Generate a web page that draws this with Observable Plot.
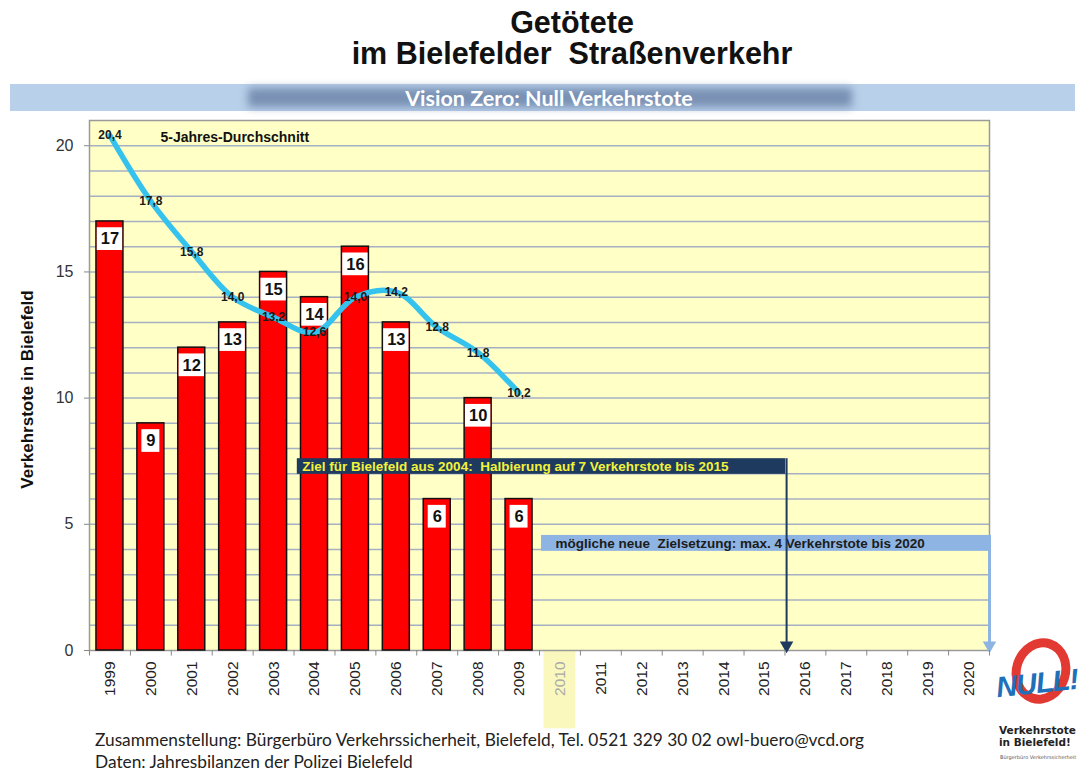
<!DOCTYPE html>
<html>
<head>
<meta charset="utf-8">
<script src="https://cdn.jsdelivr.net/npm/d3@7"></script>
<script src="https://cdn.jsdelivr.net/npm/@observablehq/plot@0.6"></script>
<style>
  body { margin: 0; background: #fff; }
  #page { position: relative; width: 1081px; height: 771px; overflow: hidden; font-family: "Liberation Sans", Arial, sans-serif; }
  .title { position: absolute; left: 0; width: 1144px; text-align: center; font-weight: bold; font-size: 30.5px; line-height: 30.5px; color: #111; white-space: pre; }
  #banner { position: absolute; left: 10px; top: 84px; width: 1065px; height: 27px; background: #b9d0ea; }
  #bannerShade { position: absolute; left: 248px; top: 88px; width: 604px; height: 19px; background: #7890b3; filter: blur(4px); }
  #bannerText { position: absolute; left: 0; width: 1098px; top: 87px; text-align: center; color: #fff; font-family: Lato, "Open Sans", sans-serif; font-weight: bold; font-size: 21.5px; line-height: 22px; }
  #chart { position: absolute; left: 0; top: 112px; }
  .cap { position: absolute; left: 95px; font-family: Lato, "Open Sans", sans-serif; font-size: 17.3px; color: #222; line-height: 18px; white-space: nowrap; }
  #logoRing { position: absolute; left: 1012px; top: 638px; width: 40px; height: 48px; border: 9px solid #e23a33; border-radius: 50%; transform: rotate(18deg); }
  #logoNull { position: absolute; left: 996px; top: 667px; font-family: "Liberation Sans", Arial, sans-serif; font-weight: bold; font-style: italic; font-size: 29px; color: #1f70b8; transform: rotate(-6deg); letter-spacing: -1px; }
  .logoTxt { position: absolute; left: 999px; font-family: "DejaVu Sans", sans-serif; font-weight: bold; font-size: 10.5px; color: #222; line-height: 12px; white-space: nowrap; }
  #logoSmall { position: absolute; left: 1000px; top: 754px; font-size: 5px; color: #555; white-space: nowrap; font-family: "DejaVu Sans", sans-serif; }
</style>
</head>
<body>
<div id="page">
  <div class="title" style="top:7px">Getötete</div>
  <div class="title" style="top:38px">im Bielefelder  Straßenverkehr</div>
  <div id="banner"></div>
  <div id="bannerShade"></div>
  <div id="bannerText">Vision Zero: Null Verkehrstote</div>
  <div id="chart"></div>
  <div class="cap" style="top:731px">Zusammenstellung: Bürgerbüro Verkehrssicherheit, Bielefeld, Tel. 0521 329 30 02 owl-buero@vcd.org</div>
  <div class="cap" style="top:753px">Daten: Jahresbilanzen der Polizei Bielefeld</div>
  <div id="logoRing"></div>
  <div id="logoNull">NULL!</div>
  <div class="logoTxt" style="top:724px">Verkehrstote</div>
  <div class="logoTxt" style="top:736px">in Bielefeld!</div>
  <div id="logoSmall">Bürgerbüro Verkehrssicherheit</div>
</div>
<script>
// ---- data ----
const axisYears = [1999, 2000, 2001, 2002, 2003, 2004, 2005, 2006, 2007, 2008, 2009, 2010,
                   2011, 2012, 2013, 2014, 2015, 2016, 2017, 2018, 2019, 2020];
const barYears = [1999, 2000, 2001, 2002, 2003, 2004, 2005, 2006, 2007, 2008, 2009];
const deaths = [17, 9, 12, 13, 15, 14, 16, 13, 6, 10, 6];
const avg5 = [20.4, 17.8, 15.8, 14.0, 13.2, 12.6, 14.0, 14.2, 12.8, 11.8, 10.2];
const yTicks = [0, 5, 10, 15, 20];
const highlightYear = 2010;
const goalLabels = [
  "Ziel für Bielefeld aus 2004:\u00a0 Halbierung auf 7 Verkehrstote bis 2015",
  "mögliche neue\u00a0 Zielsetzung: max. 4 Verkehrstote bis 2020"
];
const goalFrom = [2004, 2010];
const goalTo = [2015, 2020];
const goalValue = [7, 4];
const avgLabel = "5-Jahres-Durchschnitt";
const yLabel = "Verkehrstote in Bielefeld";

// ---- tables ----
const bars = barYears.map((year, i) => ({year, deaths: deaths[i]}));
const avgData = barYears.map((year, i) => ({year, avg: avg5[i]}));
const goals = goalLabels.map((label, i) => ({label, from: goalFrom[i], to: goalTo[i], value: goalValue[i]}));
const boundaries = [...axisYears.map(y => y - 0.5), axisYears[axisYears.length - 1] + 0.5];
const gridValues = d3.range(1, 21);
const g1 = [goals[0]], g2 = [goals[1]];

const font = "Liberation Sans, Arial, sans-serif";

const chart = Plot.plot({
  width: 1081,
  height: 620,
  marginTop: 8,
  marginBottom: 82,
  marginLeft: 89,
  marginRight: 92,
  x: {type: "linear", domain: [1998.5, 2020.5], axis: null},
  y: {domain: [0, 21], axis: null},
  style: {fontFamily: font, background: "transparent", overflow: "visible"},
  marks: [
    Plot.frame({fill: "#ffffc6", stroke: null}),
    // highlight strip for 2010 below axis
    Plot.rect([highlightYear], {x1: d => d - 0.39, x2: d => d + 0.39, y1: -3.1, y2: 0, fill: "#fbf8bd"}),
    Plot.ruleY(gridValues, {stroke: "#a6b0c3", strokeWidth: 1.5}),
    Plot.frame({stroke: "#9a9a9a", strokeWidth: 1.5}),
    Plot.axisY({ticks: yTicks, tickSize: 5, tickPadding: 11, fontSize: 16, color: "#333", stroke: "#888", label: null}),
    // bars
    Plot.rectY(bars, {x1: d => d.year - 0.33, x2: d => d.year + 0.33, y: "deaths", fill: "#ff0000", stroke: "#111", strokeWidth: 1.5}),
    Plot.rect(bars, {
      x1: d => d.year - (d.deaths >= 10 ? 0.31 : 0.22),
      x2: d => d.year + (d.deaths >= 10 ? 0.31 : 0.22),
      y1: d => d.deaths - 1.15, y2: d => d.deaths - 0.25, fill: "#ffffff"
    }),
    Plot.text(bars, {x: "year", y: d => d.deaths - 0.7, text: d => String(d.deaths), fontSize: 16.5, fontWeight: "bold", fill: "#111"}),
    // 5-year average
    Plot.line(avgData, {x: "year", y: "avg", curve: "catmull-rom", stroke: "#35c3ee", strokeWidth: 5.5}),
    Plot.text(avgData, {x: "year", y: "avg", text: d => d.avg.toFixed(1).replace(".", ","), fontSize: 12, fontWeight: "bold", fill: "#1a1a1a"}),
    Plot.text([avgLabel], {frameAnchor: "top-left", dx: 71, dy: 12, textAnchor: "start", fontSize: 14, fontWeight: "bold", fill: "#111"}),
    // goal 2 (light blue)
    Plot.rect(g2, {x1: d => d.from - 0.45, x2: d => d.to + 0.53, y1: d => d.value - 0.07, y2: d => d.value + 0.56, fill: "#8db4e2"}),
    Plot.text(g2, {x: d => d.from - 0.45, y: d => d.value + 0.25, dx: 14, textAnchor: "start", text: "label", fontSize: 13.5, fontWeight: "bold", fill: "#1c1c1c"}),
    Plot.ruleX(g2, {x: d => d.to + 0.5, y1: d => d.value + 0.56, y2: 0.2, stroke: "#8db4e2", strokeWidth: 3}),
    Plot.dot(g2, {x: d => d.to + 0.5, y: 0, dy: -5, symbol: "triangle", rotate: 180, r: 5, fill: "#8db4e2", stroke: null}),
    // goal 1 (dark navy)
    Plot.ruleX(g1, {x: d => d.to + 0.54, y1: d => d.value + 0.6, y2: 0.2, stroke: "#1f3a5f", strokeWidth: 2}),
    Plot.dot(g1, {x: d => d.to + 0.54, y: 0, dy: -5, symbol: "triangle", rotate: 180, r: 5, fill: "#1f3a5f", stroke: null}),
    Plot.rect(g1, {x1: d => d.from - 0.42, x2: d => d.to + 0.52, y1: d => d.value - 0.02, y2: d => d.value + 0.6, fill: "#1f3a5f"}),
    Plot.text(g1, {x: d => d.from - 0.42, y: d => d.value + 0.29, dx: 5, textAnchor: "start", text: "label", fontSize: 13.5, fontWeight: "bold", fill: "#f2f23a"}),
    // x axis boundary ticks
    Plot.ruleX(boundaries, {y1: 0, y2: -0.22, stroke: "#888", strokeWidth: 1}),
    // x tick labels
    Plot.text(axisYears.filter(d => d !== highlightYear), {x: d => d, y: 0, text: d => String(d), dy: 11, rotate: -90, textAnchor: "end", lineAnchor: "middle", fontSize: 15.5, fill: "#222"}),
    Plot.text([highlightYear], {x: d => d, y: 0, text: d => String(d), dy: 11, rotate: -90, textAnchor: "end", lineAnchor: "middle", fontSize: 15.5, fill: "#aaaaaa"}),
    // y label
    Plot.text([yLabel], {frameAnchor: "left", dx: -62, dy: 4, rotate: -90, textAnchor: "middle", lineAnchor: "middle", fontSize: 17, fontWeight: "bold", fill: "#111"})
  ]
});
document.getElementById("chart").appendChild(chart);
</script>
</body>
</html>
